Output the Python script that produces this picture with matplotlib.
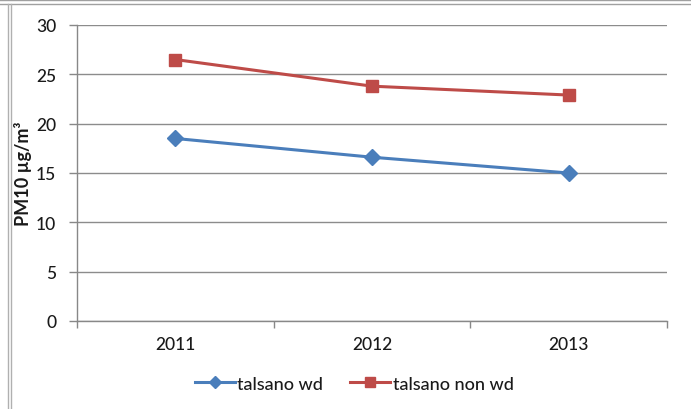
import matplotlib
matplotlib.use("Agg")
import matplotlib.pyplot as plt
from matplotlib.lines import Line2D

years = ["2011", "2012", "2013"]
wd = [18.5, 16.6, 15.0]
non_wd = [26.5, 23.8, 22.9]
yticks = [0, 5, 10, 15, 20, 25, 30]

plt.rcParams["font.family"] = ["Lato", "DejaVu Sans"]

W, H = 691, 410
fig = plt.figure(figsize=(W / 100, H / 100), dpi=100)
fig.patch.set_facecolor("white")

# outer chart frame (top and left edges)
for y in (1, 5):
    fig.add_artist(Line2D([0, 1], [1 - y / H, 1 - y / H], color="#a0a0a0", lw=1))
for x in (8, 11):
    fig.add_artist(Line2D([x / W, x / W], [0, 1 - 5 / H], color="#b0b0b0", lw=1))

left, right, top, bottom = 77, 667, 26, 322
ax = fig.add_axes([left / W, 1 - bottom / H, (right - left) / W, (bottom - top) / H])

xs = range(len(years))
ax.plot(xs, wd, color="#4A7EBB", lw=2.2, marker="D", markersize=8,
        markerfacecolor="#4A7EBB", markeredgecolor="#4A7EBB", label="talsano wd", zorder=3)
ax.plot(xs, non_wd, color="#BE4B48", lw=2.2, marker="s", markersize=9,
        markerfacecolor="#BE4B48", markeredgecolor="#BE4B48", label="talsano non wd", zorder=3)

tick_font = dict(fontsize=12.5, fontweight="medium", color="#1a1a1a")
ax.set_xlim(-0.5, len(years) - 0.5)
ax.set_ylim(0, 30)
ax.set_yticks(yticks)
ax.set_yticklabels([str(v) for v in yticks], **tick_font)
ax.set_xticks(list(xs))
ax.set_xticklabels(years, **tick_font)
ax.set_xticks([i - 0.5 for i in range(len(years) + 1)], minor=True)
ax.tick_params(axis="x", which="major", length=0, pad=11)
ax.tick_params(axis="x", which="minor", length=5, color="#888888", width=1)
ax.tick_params(axis="y", length=6, color="#888888", width=1, pad=9)
ax.yaxis.grid(True, color="#8c8c8c", lw=1)
ax.set_axisbelow(True)
for s in ("top", "right"):
    ax.spines[s].set_visible(False)
for s in ("left", "bottom"):
    ax.spines[s].set_color("#888888")
    ax.spines[s].set_linewidth(1)

ax.set_ylabel("PM10 µg/m³", fontsize=13, fontweight="bold", labelpad=3, color="#1a1a1a")

leg = ax.legend(loc="upper center", bbox_to_anchor=(0.47, -0.13), ncol=2, frameon=False,
                prop=dict(size=13, weight="medium"), handlelength=2.2, columnspacing=1.5,
                handletextpad=0.15, markerscale=0.75)
for t in leg.get_texts():
    t.set_color("#1a1a1a")

fig.savefig("out.png", dpi=100, facecolor="white")
